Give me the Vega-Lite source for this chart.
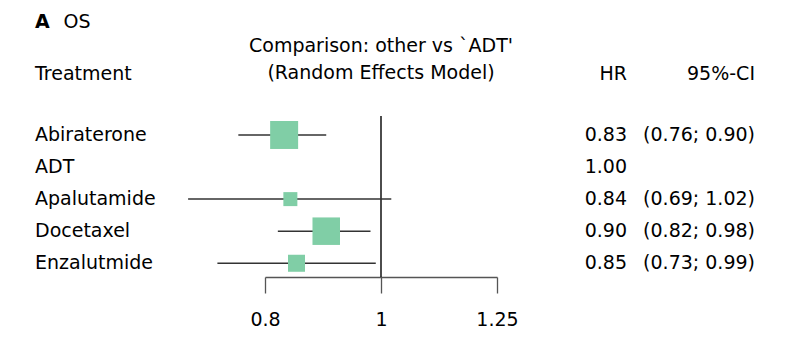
{
  "$schema": "https://vega.github.io/schema/vega-lite/v6.json",
  "background": "white",
  "padding": {"left": 35, "top": 13, "right": 10, "bottom": 5},
  "title": {
    "text": "A",
    "subtitle": "\u200b\u2002\u2002\u2002OS",
    "anchor": "start",
    "frame": "group",
    "font": "DejaVu Sans",
    "fontSize": 19,
    "fontWeight": "bold",
    "color": "black",
    "subtitleFont": "DejaVu Sans",
    "subtitleFontSize": 19,
    "subtitleFontWeight": "normal",
    "subtitleColor": "black",
    "subtitlePadding": -19,
    "offset": 5
  },
  "config": {
    "font": "DejaVu Sans",
    "view": {"stroke": null},
    "title": {"font": "DejaVu Sans", "fontSize": 19, "fontWeight": "normal", "color": "black"}
  },
  "datasets": {
    "rows": [
      {"Treatment": "Abiraterone", "HR": 0.83, "lower": 0.76, "upper": 0.90, "weight": 28.4, "ci": "(0.76; 0.90)"},
      {"Treatment": "ADT", "HR": 1.00, "lower": null, "upper": null, "weight": null, "ci": ""},
      {"Treatment": "Apalutamide", "HR": 0.84, "lower": 0.69, "upper": 1.02, "weight": 7.1, "ci": "(0.69; 1.02)"},
      {"Treatment": "Docetaxel", "HR": 0.90, "lower": 0.82, "upper": 0.98, "weight": 27.4, "ci": "(0.82; 0.98)"},
      {"Treatment": "Enzalutmide", "HR": 0.85, "lower": 0.73, "upper": 0.99, "weight": 10.5, "ci": "(0.73; 0.99)"}
    ]
  },
  "bounds": "flush",
  "spacing": 10,
  "resolve": {"scale": {"y": "shared"}},
  "hconcat": [
    {
      "width": 220,
      "height": 161,
      "title": {"text": "Treatment", "anchor": "start", "offset": 32},
      "data": {"name": "rows"},
      "mark": {"type": "text", "align": "left", "baseline": "middle", "fontSize": 19, "font": "DejaVu Sans", "color": "black"},
      "encoding": {
        "x": {"value": 0},
        "y": {"field": "Treatment", "type": "nominal", "sort": null, "axis": null,
              "scale": {"type": "point", "padding": 0.51, "align": 0.58}},
        "text": {"field": "Treatment"}
      }
    },
    {
      "width": 232,
      "height": 161,
      "title": {"text": ["Comparison: other vs `ADT'", "(Random Effects Model)"], "anchor": "middle", "offset": 32, "lineHeight": 27},
      "layer": [
        {
          "data": {"values": [{"ref": 1}]},
          "mark": {"type": "rule", "color": "black", "strokeWidth": 1.4},
          "encoding": {
            "x": {"field": "ref", "type": "quantitative",
                  "scale": {"type": "log", "domain": [0.8, 1.25], "nice": false, "zero": false},
                  "axis": {"values": [0.8, 1, 1.25], "format": "~g", "title": null, "grid": false,
                           "tickSize": 16, "tickColor": "#555", "tickWidth": 1.3,
                           "domainColor": "#555", "domainWidth": 1.3,
                           "labelFont": "DejaVu Sans", "labelFontSize": 19, "labelColor": "black",
                           "labelPadding": 17, "labelFlush": false, "labelOverlap": false}}
          }
        },
        {
          "data": {"name": "rows"},
          "transform": [{"filter": "datum.lower != null"}],
          "mark": {"type": "rule", "color": "#333", "strokeWidth": 1.5},
          "encoding": {
            "x": {"field": "lower", "type": "quantitative"},
            "x2": {"field": "upper"},
            "y": {"field": "Treatment", "type": "nominal", "sort": null, "axis": null}
          }
        },
        {
          "data": {"name": "rows"},
          "transform": [{"filter": "datum.weight != null"}],
          "mark": {"type": "point", "shape": "square", "filled": true, "opacity": 1, "color": "#80CEA6", "strokeWidth": 0},
          "encoding": {
            "x": {"field": "HR", "type": "quantitative"},
            "y": {"field": "Treatment", "type": "nominal", "sort": null, "axis": null},
            "size": {"field": "weight", "type": "quantitative", "legend": null,
                     "scale": {"type": "linear", "domain": [0, 30], "range": [0, 828], "zero": true}}
          }
        }
      ]
    },
    {
      "width": 120,
      "height": 161,
      "title": {"text": "HR", "anchor": "end", "offset": 32},
      "data": {"name": "rows"},
      "mark": {"type": "text", "align": "right", "baseline": "middle", "fontSize": 19, "font": "DejaVu Sans", "color": "black"},
      "encoding": {
        "x": {"value": 120},
        "y": {"field": "Treatment", "type": "nominal", "sort": null, "axis": null},
        "text": {"field": "HR", "type": "quantitative", "format": ".2f"}
      }
    },
    {
      "width": 118,
      "height": 161,
      "title": {"text": "95%-CI", "anchor": "end", "offset": 32},
      "data": {"name": "rows"},
      "mark": {"type": "text", "align": "right", "baseline": "middle", "fontSize": 19, "font": "DejaVu Sans", "color": "black"},
      "encoding": {
        "x": {"value": 118},
        "y": {"field": "Treatment", "type": "nominal", "sort": null, "axis": null},
        "text": {"field": "ci"}
      }
    }
  ]
}
